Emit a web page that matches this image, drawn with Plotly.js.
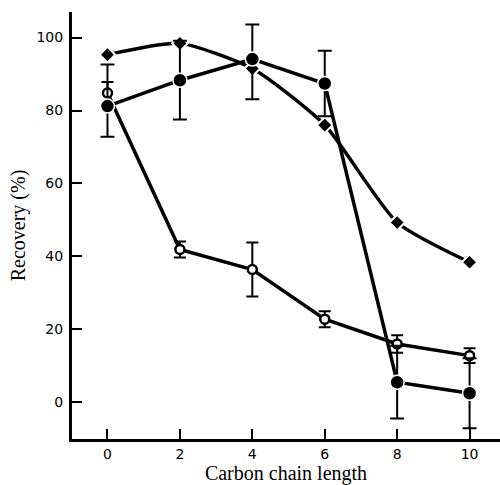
<!DOCTYPE html>
<html>
<head>
<meta charset="utf-8">
<script src="https://cdn.plot.ly/plotly-3.0.1.min.js"></script>
<style>html,body{margin:0;padding:0;background:#fff;}#chart{width:500px;height:485px;}</style>
</head>
<body>
<div id="chart"></div>
<script>
// Carbon chain length (x)
var chainLength = [0, 2, 4, 6, 8, 10];
// Diamonds series
var diamondRecovery = [95.3, 98.4, 91.5, 76.0, 49.3, 38.4];
// Filled circles series
var filledRecovery = [81.2, 88.3, 94.1, 87.4, 5.5, 2.5];
var filledErrPlus = [11.4, 10.8, 9.5, 9.0, 10.0, 9.6];
var filledErrMinus = [8.4, 10.8, 11.0, 9.0, 9.9, 9.6];
// Open circles series
var openRecovery = [84.8, 41.9, 36.4, 22.8, 16.0, 12.8];
var openErr = [3.0, 2.2, 7.4, 2.2, 2.4, 2.0];
var xTicks = [0, 2, 4, 6, 8, 10];
var yTicks = [0, 20, 40, 60, 80, 100];

var traces = [
  {
    x: chainLength, y: openRecovery, mode: 'lines+markers', type: 'scatter',
    line: {color: '#000', width: 3.5},
    marker: {symbol: 'circle', size: 9, color: '#fff', line: {color: '#000', width: 2.5}},
    error_y: {type: 'data', array: openErr, visible: true, color: '#000', thickness: 2, width: 6}
  },
  {
    x: chainLength, y: diamondRecovery, mode: 'lines+markers', type: 'scatter',
    line: {color: '#000', width: 3.5, shape: 'spline', smoothing: 0.6},
    marker: {symbol: 'diamond', size: 12, color: '#000', line: {color: '#fff', width: 2}}
  },
  {
    x: chainLength, y: filledRecovery, mode: 'lines+markers', type: 'scatter',
    line: {color: '#000', width: 3.5},
    marker: {symbol: 'circle', size: 14, color: '#000', line: {color: '#fff', width: 1.5}},
    error_y: {type: 'data', symmetric: false, array: filledErrPlus, arrayminus: filledErrMinus,
              visible: true, color: '#000', thickness: 2, width: 7}
  }
];

var layout = {
  width: 500, height: 485,
  margin: {l: 72, r: 0, t: 12, b: 46},
  paper_bgcolor: '#fff', plot_bgcolor: '#fff',
  showlegend: false,
  xaxis: {
    range: [-0.98, 10.84], tickvals: xTicks, ticktext: xTicks.map(String),
    ticks: 'inside', ticklen: 10, tickwidth: 2, tickcolor: '#000',
    showline: true, linewidth: 3, linecolor: '#000', showgrid: false, zeroline: false,
    tickfont: {family: 'DejaVu Sans', size: 14, color: '#000'},
    title: {text: 'Carbon chain length', font: {family: 'Liberation Serif', size: 20, color: '#000'}, standoff: 6}
  },
  yaxis: {
    range: [-10.05, 107], tickvals: yTicks, ticktext: yTicks.map(String),
    ticks: 'inside', ticklen: 10, tickwidth: 2, tickcolor: '#000',
    showline: true, linewidth: 3, linecolor: '#000', showgrid: false, zeroline: false,
    tickfont: {family: 'DejaVu Sans', size: 14, color: '#000'},
    ticklabelstandoff: 3,
    title: {text: 'Recovery (%)', font: {family: 'Liberation Serif', size: 20, color: '#000'}, standoff: 6}
  }
};

Plotly.newPlot('chart', traces, layout, {displayModeBar: false, staticPlot: true});
</script>
</body>
</html>
